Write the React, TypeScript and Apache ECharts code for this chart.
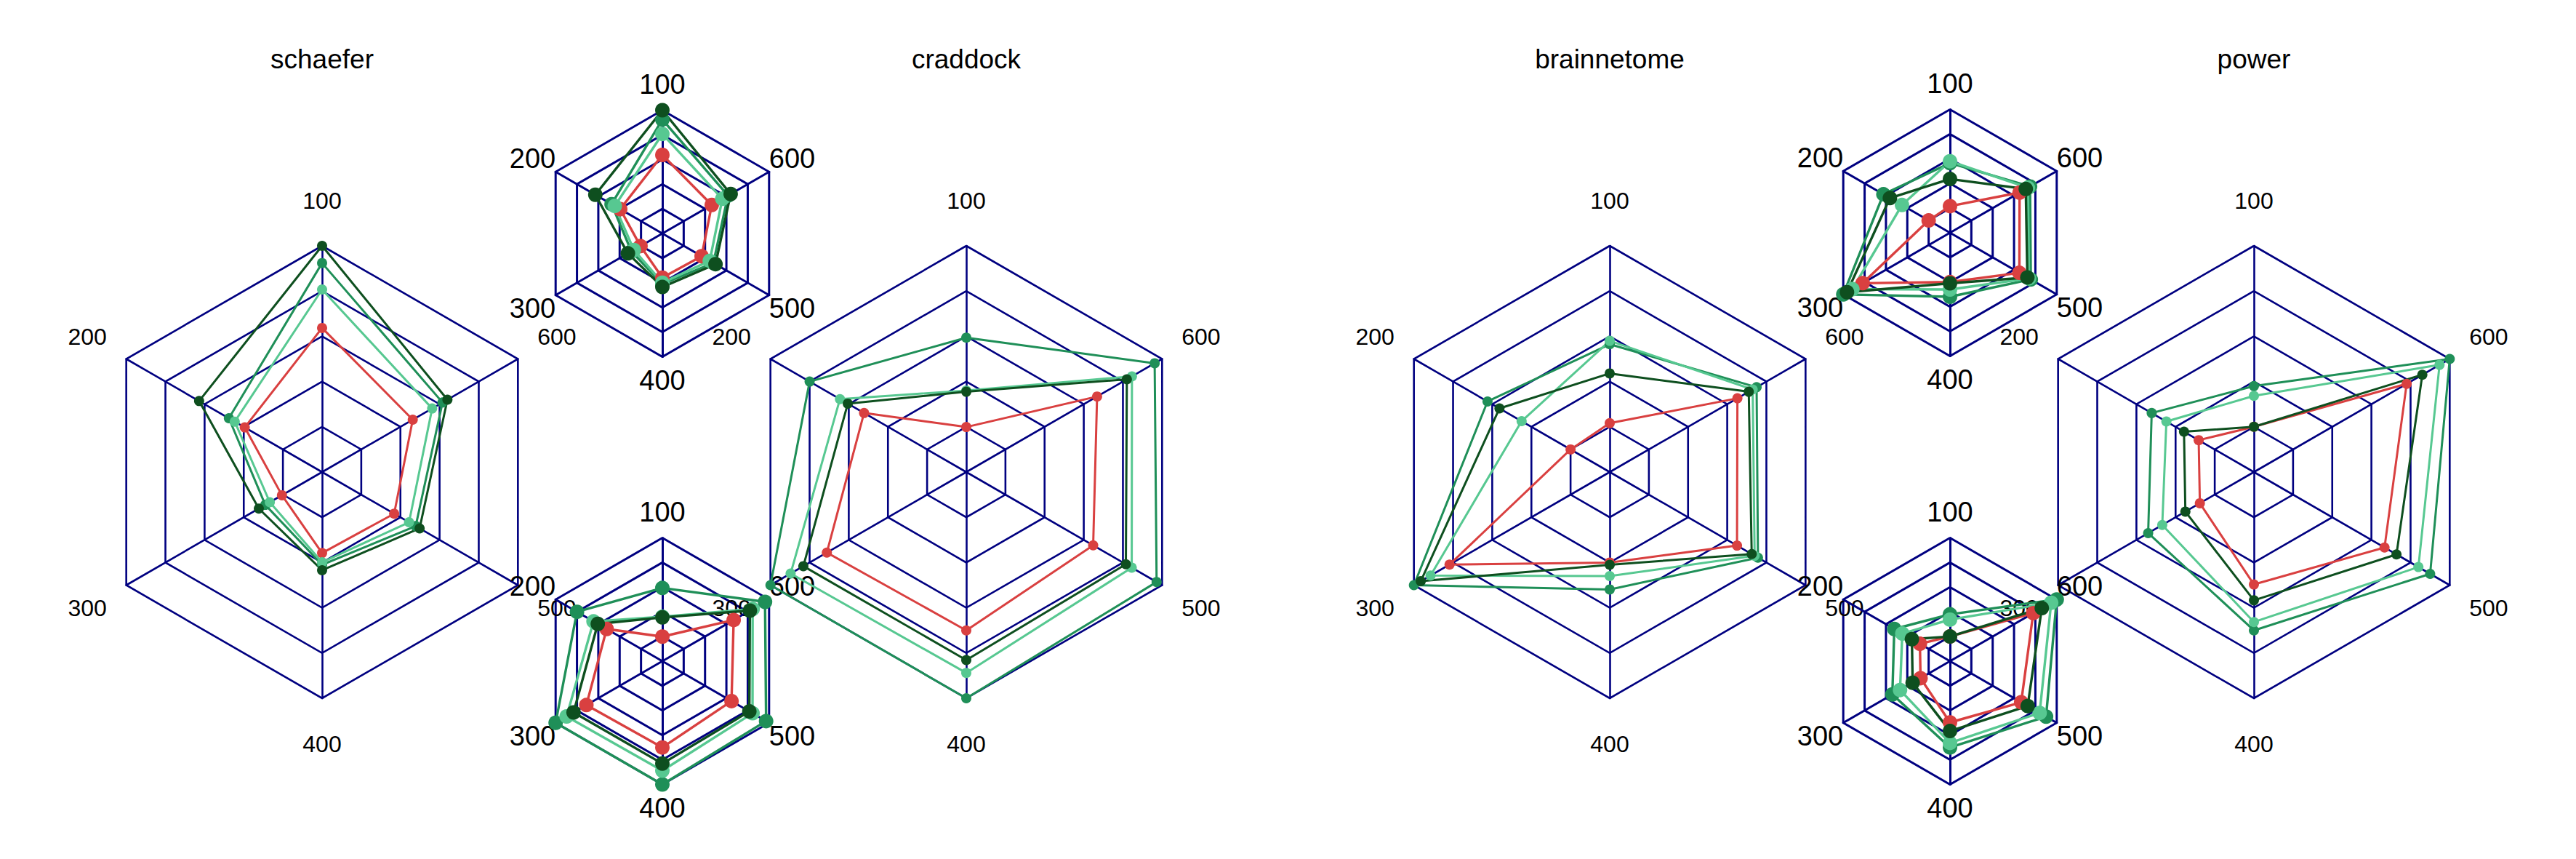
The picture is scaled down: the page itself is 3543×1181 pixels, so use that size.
import React, { useEffect, useRef } from "react";
import * as echarts from "echarts";

// ---------- data ----------
const indicatorNames = ["100", "200", "300", "400", "500", "600"];
const atlasNames = ["schaefer", "craddock", "brainnetome", "power"];
const seriesNames = ["red", "medium green", "light green", "dark green"];

// values as fraction of each axis maximum, in indicator order 100..600
const schaeferRed = [0.637, 0.395, 0.205, 0.358, 0.368, 0.463];
const schaeferMid = [0.924, 0.476, 0.29, 0.41, 0.478, 0.615];
const schaeferLight = [0.807, 0.446, 0.267, 0.399, 0.444, 0.562];
const schaeferDark = [1.0, 0.628, 0.323, 0.434, 0.498, 0.64];

const craddockRed = [0.199, 0.522, 0.712, 0.7, 0.648, 0.668];
const craddockMid = [0.594, 0.8, 1.0, 1.0, 0.972, 0.962];
const craddockLight = [0.36, 0.645, 0.897, 0.888, 0.845, 0.846];
const craddockDark = [0.355, 0.605, 0.832, 0.831, 0.815, 0.82];

const brainnetomeRed = [0.216, 0.2, 0.818, 0.4, 0.65, 0.652];
const brainnetomeMid = [0.565, 0.624, 1.0, 0.519, 0.757, 0.75];
const brainnetomeLight = [0.58, 0.45, 0.915, 0.46, 0.74, 0.73];
const brainnetomeDark = [0.436, 0.563, 0.965, 0.41, 0.725, 0.71];

const powerRed = [0.2, 0.282, 0.276, 0.497, 0.667, 0.78];
const powerMid = [0.38, 0.522, 0.54, 0.7, 0.9, 1.0];
const powerLight = [0.337, 0.447, 0.468, 0.663, 0.84, 0.948];
const powerDark = [0.2, 0.357, 0.35, 0.567, 0.728, 0.86];

const atlasData = [
  [schaeferRed, schaeferMid, schaeferLight, schaeferDark],
  [craddockRed, craddockMid, craddockLight, craddockDark],
  [brainnetomeRed, brainnetomeMid, brainnetomeLight, brainnetomeDark],
  [powerRed, powerMid, powerLight, powerDark],
];

// ---------- style / layout ----------
const COLORS = ["#d94040", "#1f8f58", "#57c891", "#0e4f1f"];
const NAVY = "#000080";
const FONT = "'Liberation Sans', Arial, Helvetica, sans-serif";

const LARGE_X = [443, 1329, 2214, 3100];
const LARGE_Y = 649;
const LARGE_R = 311;
// small radars: [atlas index, cx, cy]
const SMALL = [
  [0, 911, 321],
  [1, 911, 909],
  [2, 2682, 320],
  [3, 2682, 909],
];
const SMALL_R = 169.5;

function labelKey(name: string) {
  const i = indicatorNames.indexOf(name);
  if (i === 0) return "t";
  if (i === 3) return "b";
  if (i === 1 || i === 5) return "u";
  return "l";
}

function makeRadar(cx: number, cy: number, r: number, small: boolean) {
  const fs = small ? 38 : 32;
  const lw = small ? 3 : 2.6;
  const pads = small
    ? { t: [0, 0, 17, 0], b: [13, 0, 0, 0], u: [0, 0, 36, 0], l: [36, 0, 0, 0] }
    : { t: [0, 0, 15, 0], b: [16, 0, 0, 0], u: [0, 0, 31, 0], l: [31, 0, 0, 0] };
  const base = { color: "#000", fontSize: fs, fontFamily: FONT };
  return {
    center: [cx, cy],
    radius: r,
    startAngle: 90,
    splitNumber: 5,
    shape: "polygon",
    nameGap: small ? 0 : 31,
    indicator: indicatorNames.map((n) => ({ name: n, min: 0, max: 1 })),
    axisName: {
      color: "#000",
      fontSize: fs,
      fontFamily: FONT,
      formatter: (name: string) => `{${labelKey(name)}|${name}}`,
      rich: {
        t: { ...base, padding: pads.t },
        b: { ...base, padding: pads.b },
        u: { ...base, padding: pads.u },
        l: { ...base, padding: pads.l },
      },
    },
    axisLine: { show: true, lineStyle: { color: NAVY, width: lw } },
    splitLine: { show: true, lineStyle: { color: NAVY, width: lw } },
    splitArea: { show: false },
    axisTick: { show: false },
    axisLabel: { show: false },
  };
}

function makeSeries(radarIndex: number, atlas: number, small: boolean) {
  const size = small ? 20 : 14;
  const lw = small ? 3.4 : 3;
  return {
    type: "radar",
    radarIndex,
    symbol: "circle",
    symbolSize: size,
    silent: true,
    data: atlasData[atlas].map((vals, k) => ({
      name: seriesNames[k],
      value: vals,
      symbolSize: size,
      lineStyle: { color: COLORS[k], width: lw, type: "solid" },
      itemStyle: { color: COLORS[k] },
    })),
  };
}

export default function App() {
  const ref = useRef<HTMLDivElement>(null);

  useEffect(() => {
    if (!ref.current) return;
    const chart = echarts.init(ref.current, undefined, { renderer: "svg" });

    const radars: any[] = [];
    const series: any[] = [];
    LARGE_X.forEach((x, i) => {
      radars.push(makeRadar(x, LARGE_Y, LARGE_R, false));
      series.push(makeSeries(radars.length - 1, i, false));
    });
    SMALL.forEach(([atlas, x, y]) => {
      radars.push(makeRadar(x, y, SMALL_R, true));
      series.push(makeSeries(radars.length - 1, atlas, true));
    });

    chart.setOption({
      animation: false,
      backgroundColor: "#ffffff",
      title: atlasNames.map((t, i) => ({
        text: t,
        left: LARGE_X[i],
        top: 63,
        padding: 0,
        textAlign: "center",
        textStyle: {
          fontSize: 37,
          fontWeight: "normal",
          color: "#000",
          fontFamily: FONT,
        },
      })),
      radar: radars,
      series,
    });

    return () => chart.dispose();
  }, []);

  return (
    <div
      ref={ref}
      style={{
        position: "fixed",
        left: 0,
        top: 0,
        width: 3543,
        height: 1181,
        background: "#fff",
      }}
    />
  );
}
